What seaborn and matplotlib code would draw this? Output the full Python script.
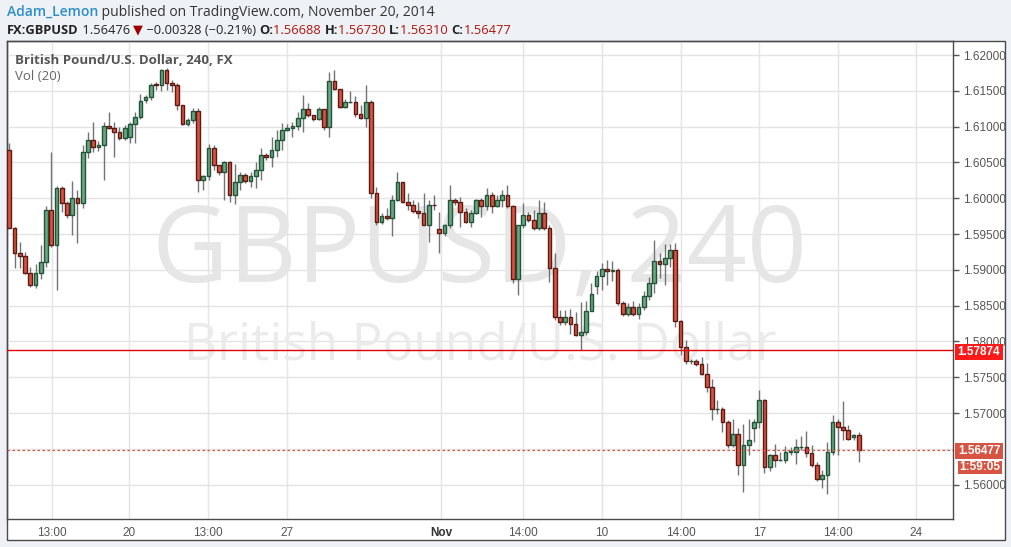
import matplotlib
matplotlib.use("Agg")
import matplotlib.pyplot as plt
import seaborn as sns
import pandas as pd
from matplotlib.patches import Rectangle

# GBPUSD 4h candles, Oct 15 - Nov 20 2014
opens = [1.6068, 1.5959, 1.5924, 1.5919, 1.5896, 1.5879, 1.5896, 1.5911, 1.5983, 1.5934,
         1.6014, 1.5994, 1.5977, 1.6001, 1.5994, 1.6065, 1.6082, 1.6071, 1.6074, 1.6101,
         1.6098, 1.6092, 1.6084, 1.6086, 1.6104, 1.6113, 1.6137, 1.6141, 1.6160, 1.6158,
         1.6179, 1.6161, 1.6158, 1.6130, 1.6103, 1.6109, 1.6122, 1.6025, 1.6031, 1.6070,
         1.6046, 1.6036, 1.6051, 1.6004, 1.6022, 1.6032, 1.6024, 1.6031, 1.6040, 1.6060,
         1.6057, 1.6068, 1.6082, 1.6095, 1.6098, 1.6101, 1.6112, 1.6124, 1.6116, 1.6110,
         1.6125, 1.6099, 1.6164, 1.6152, 1.6127, 1.6134, 1.6135, 1.6118, 1.6112, 1.6135,
         1.6007, 1.5967, 1.5975, 1.5973, 1.5997, 1.6022, 1.5995, 1.5991, 1.5982, 1.5980,
         1.5963, 1.5991, 1.5957, 1.5951, 1.5963, 1.5998, 1.5995, 1.5981, 1.5967, 1.5980,
         1.5997, 1.5989, 1.6005, 1.5989, 1.5998, 1.6004, 1.5989, 1.5887, 1.5962, 1.5976,
         1.5970, 1.5958, 1.5979, 1.5959, 1.5903, 1.5834, 1.5827, 1.5834, 1.5824, 1.5809,
         1.5813, 1.5843, 1.5878, 1.5891, 1.5901, 1.5899, 1.5900, 1.5854, 1.5838, 1.5848,
         1.5839, 1.5848, 1.5863, 1.5881, 1.5912, 1.5908, 1.5917, 1.5928, 1.5828, 1.5792,
         1.5772, 1.5773, 1.5769, 1.5755, 1.5736, 1.5705, 1.5706, 1.5688, 1.5656, 1.5671,
         1.5627, 1.5655, 1.5679, 1.5688, 1.5718, 1.5624, 1.5642, 1.5634, 1.5635, 1.5646,
         1.5646, 1.5652, 1.5653, 1.5644, 1.5627, 1.5608, 1.5613, 1.5646, 1.5687, 1.5680,
         1.5677, 1.5667, 1.56688]
highs = [1.6077, 1.5960, 1.5939, 1.5925, 1.5904, 1.5908, 1.5935, 1.5989, 1.6065, 1.6017,
         1.6017, 1.5996, 1.6024, 1.6011, 1.6074, 1.6093, 1.6106, 1.6080, 1.6107, 1.6121,
         1.6106, 1.6099, 1.6102, 1.6107, 1.6121, 1.6146, 1.6144, 1.6161, 1.6162, 1.6181,
         1.6182, 1.6165, 1.6161, 1.6130, 1.6112, 1.6126, 1.6126, 1.6032, 1.6076, 1.6074,
         1.6046, 1.6052, 1.6052, 1.6048, 1.6036, 1.6035, 1.6036, 1.6051, 1.6070, 1.6063,
         1.6086, 1.6095, 1.6105, 1.6104, 1.6107, 1.6121, 1.6144, 1.6133, 1.6116, 1.6128,
         1.6125, 1.6177, 1.6179, 1.6153, 1.6139, 1.6150, 1.6143, 1.6130, 1.6158, 1.6137,
         1.6015, 1.5980, 1.5986, 1.6005, 1.6036, 1.6023, 1.6008, 1.5998, 1.5995, 1.6007,
         1.5998, 1.6004, 1.5981, 1.5964, 1.6019, 1.6000, 1.6002, 1.5987, 1.5983, 1.5999,
         1.6000, 1.6014, 1.6009, 1.6004, 1.6011, 1.6018, 1.5990, 1.5963, 1.5993, 1.5981,
         1.5983, 1.5998, 1.5995, 1.5962, 1.5923, 1.5844, 1.5844, 1.5845, 1.5841, 1.5855,
         1.5856, 1.5881, 1.5899, 1.5909, 1.5914, 1.5913, 1.5903, 1.5857, 1.5853, 1.5857,
         1.5853, 1.5870, 1.5890, 1.5942, 1.5923, 1.5936, 1.5936, 1.5938, 1.5830, 1.5802,
         1.5776, 1.5775, 1.5778, 1.5770, 1.5747, 1.5718, 1.5709, 1.5690, 1.5692, 1.5679,
         1.5685, 1.5691, 1.5692, 1.5732, 1.5719, 1.5643, 1.5657, 1.5646, 1.5654, 1.5652,
         1.5664, 1.5668, 1.5675, 1.5655, 1.5631, 1.5620, 1.5660, 1.5697, 1.5692, 1.5717,
         1.5683, 1.5671, 1.56730]
lows = [1.5958, 1.5902, 1.5903, 1.5894, 1.5876, 1.5874, 1.5887, 1.5904, 1.5932, 1.5872,
        1.5981, 1.5972, 1.5949, 1.5938, 1.5986, 1.6056, 1.6065, 1.6066, 1.6026, 1.6097,
        1.6057, 1.6081, 1.6081, 1.6077, 1.6077, 1.6111, 1.6133, 1.6137, 1.6151, 1.6150,
        1.6151, 1.6148, 1.6123, 1.6102, 1.6101, 1.6105, 1.6009, 1.6011, 1.6026, 1.6039,
        1.6032, 1.5997, 1.5995, 1.5992, 1.6011, 1.6021, 1.6016, 1.6014, 1.6026, 1.6053,
        1.6043, 1.6057, 1.6067, 1.6094, 1.6085, 1.6095, 1.6093, 1.6113, 1.6108, 1.6109,
        1.6095, 1.6085, 1.6151, 1.6126, 1.6126, 1.6133, 1.6113, 1.6111, 1.6100, 1.6000,
        1.5962, 1.5964, 1.5969, 1.5947, 1.5996, 1.5993, 1.5983, 1.5979, 1.5972, 1.5962,
        1.5939, 1.5983, 1.5923, 1.5947, 1.5958, 1.5990, 1.5960, 1.5965, 1.5960, 1.5978,
        1.5974, 1.5983, 1.5979, 1.5988, 1.5988, 1.5986, 1.5881, 1.5865, 1.5958, 1.5967,
        1.5955, 1.5955, 1.5955, 1.5883, 1.5830, 1.5823, 1.5823, 1.5811, 1.5807, 1.5788,
        1.5809, 1.5842, 1.5866, 1.5872, 1.5879, 1.5885, 1.5851, 1.5835, 1.5835, 1.5835,
        1.5831, 1.5844, 1.5858, 1.5867, 1.5888, 1.5879, 1.5904, 1.5820, 1.5781, 1.5768,
        1.5769, 1.5765, 1.5753, 1.5730, 1.5690, 1.5698, 1.5674, 1.5651, 1.5653, 1.5613,
        1.5590, 1.5641, 1.5660, 1.5679, 1.5616, 1.5619, 1.5625, 1.5633, 1.5630, 1.5641,
        1.5629, 1.5649, 1.5639, 1.5624, 1.5605, 1.5595, 1.5587, 1.5641, 1.5642, 1.5663,
        1.5662, 1.5662, 1.56310]
closes = [1.5959, 1.5924, 1.5919, 1.5896, 1.5879, 1.5896, 1.5911, 1.5983, 1.5934, 1.6014,
          1.5994, 1.5977, 1.6001, 1.5994, 1.6065, 1.6082, 1.6071, 1.6074, 1.6101, 1.6098,
          1.6092, 1.6084, 1.6098, 1.6104, 1.6113, 1.6136, 1.6141, 1.6158, 1.6158, 1.6179,
          1.6161, 1.6158, 1.6130, 1.6103, 1.6109, 1.6122, 1.6025, 1.6031, 1.6070, 1.6046,
          1.6036, 1.6051, 1.6004, 1.6022, 1.6032, 1.6024, 1.6031, 1.6040, 1.6060, 1.6057,
          1.6068, 1.6082, 1.6095, 1.6098, 1.6101, 1.6112, 1.6124, 1.6116, 1.6110, 1.6125,
          1.6099, 1.6164, 1.6152, 1.6127, 1.6134, 1.6135, 1.6118, 1.6112, 1.6135, 1.6007,
          1.5967, 1.5975, 1.5973, 1.5997, 1.6022, 1.5995, 1.5991, 1.5982, 1.5980, 1.5963,
          1.5991, 1.5990, 1.5951, 1.5963, 1.5998, 1.5995, 1.5981, 1.5967, 1.5980, 1.5997,
          1.5989, 1.6005, 1.5989, 1.5998, 1.6004, 1.5989, 1.5887, 1.5962, 1.5976, 1.5970,
          1.5958, 1.5979, 1.5959, 1.5903, 1.5834, 1.5827, 1.5834, 1.5824, 1.5809, 1.5813,
          1.5843, 1.5866, 1.5891, 1.5901, 1.5899, 1.5900, 1.5854, 1.5838, 1.5848, 1.5839,
          1.5848, 1.5863, 1.5881, 1.5912, 1.5908, 1.5917, 1.5928, 1.5828, 1.5792, 1.5772,
          1.5773, 1.5769, 1.5755, 1.5736, 1.5705, 1.5706, 1.5688, 1.5656, 1.5671, 1.5627,
          1.5655, 1.5663, 1.5688, 1.5718, 1.5624, 1.5642, 1.5634, 1.5635, 1.5646, 1.5646,
          1.5652, 1.5653, 1.5644, 1.5627, 1.5608, 1.5613, 1.5646, 1.5687, 1.5680, 1.5677,
          1.5664, 1.5669, 1.56477]

time_labels = ["13:00", "20", "13:00", "27", "Nov", "14:00", "10", "14:00", "17", "14:00", "24"]
time_ticks = [8.1, 22.8, 37.9, 53.0, 82.3, 98.0, 113.0, 128.1, 143.0, 158.0, 172.9]
grid_prices = [1.560, 1.565, 1.570, 1.575, 1.580, 1.585, 1.590, 1.595, 1.600, 1.605, 1.610, 1.615, 1.620]
# 1.565 label is covered by the last-price tag in the original
label_prices = [1.560, 1.570, 1.575, 1.580, 1.585, 1.590, 1.595, 1.600, 1.605, 1.610, 1.615, 1.620]
hline_price = 1.57874
last_price = 1.56477

df = pd.DataFrame({"open": opens, "high": highs, "low": lows, "close": closes})
df["up"] = df["close"] >= df["open"]

sns.set_theme(style="white")
plt.rcParams["font.family"] = ["Open Sans", "DejaVu Sans"]

W, H = 1012, 547
fig = plt.figure(figsize=(W / 100, H / 100), dpi=100, facecolor="#eef1f6")


def fx(px):
    return px / W


def fy(py):
    return 1 - py / H


# white chart frame
fig.patches.append(Rectangle((fx(7), fy(540)), fx(1005) - fx(7), fy(41) - fy(540),
                             transform=fig.transFigure, facecolor="white",
                             edgecolor="#4a4a4a", lw=1, zorder=-10))

ax = fig.add_axes([fx(7), fy(519), fx(953) - fx(7), fy(41) - fy(519)])
ax.set_facecolor("none")
ax.set_xlim(-0.44, 179.96)
ax.set_ylim(1.55520, 1.62196)

# grid
for t in time_ticks:
    ax.axvline(t, color="#e4e4e4", lw=1, zorder=0)
for p in grid_prices:
    ax.axhline(p, color="#e4e4e4", lw=1, zorder=0)

# watermark
ax.text(0.5, 0.555, "GBPUSD, 240", transform=ax.transAxes, ha="center", va="center",
        fontsize=76, color="#e6e6e6", family=["Open Sans", "DejaVu Sans"], zorder=0.5)
ax.text(0.5, 0.362, "British Pound/U.S. Dollar", transform=ax.transAxes, ha="center",
        va="center", fontsize=37, color="#ebebeb", family=["Open Sans", "DejaVu Sans"], zorder=0.5)

# candles
up_fill, up_edge = "#6ba583", "#225437"
dn_fill, dn_edge = "#d75442", "#5b1a13"
x = df.index.values
ax.vlines(x, df["low"], df["high"], color="#737375", lw=1, zorder=2)
body_lo = df[["open", "close"]].min(axis=1)
body_h = (df["close"] - df["open"]).abs().clip(lower=0.00004)
ax.bar(x, body_h, bottom=body_lo, width=0.7,
       color=[up_fill if u else dn_fill for u in df["up"]],
       edgecolor=[up_edge if u else dn_edge for u in df["up"]], lw=1, zorder=3)

ax.axhline(hline_price, color="#e00000", lw=1, zorder=4)
ax.axhline(last_price, color="#d75442", lw=0.9, ls=(0, (2, 2)), zorder=4)

# axes styling
for s in ax.spines.values():
    s.set_color("#4a4a4a")
    s.set_linewidth(1)
ax.yaxis.tick_right()
ax.set_yticks(label_prices)
ax.set_yticklabels([f"{p:.5f}" for p in label_prices])
ax.set_xticks(time_ticks)
ax.set_xticklabels(time_labels)
ax.tick_params(axis="both", colors="#555555", labelsize=8.5, length=4, width=1,
               labelcolor="#555555")
ax.tick_params(axis="x", pad=2)
ax.tick_params(axis="y", pad=3)
for lab in ax.get_xticklabels() + ax.get_yticklabels():
    lab.set_family(["Liberation Sans", "DejaVu Sans"])
ax.get_xticklabels()[4].set_fontweight("bold")
ax.get_xticklabels()[4].set_color("#333333")
ax.set_xlabel("")
ax.set_ylabel("")

fig.text(fx(15), fy(60), "British Pound/U.S. Dollar, 240, FX", fontsize=9.5,
         fontweight="bold", color="#555555", va="center")
fig.text(fx(15), fy(77), "Vol (20)", fontsize=9.5, color="#666666", va="center")

# price tags on the right axis
tags = [(955, 344, 48, 16, "#ff1a1a", f"{hline_price:.5f}"),
        (955, 443, 48, 16, "#d75442", f"{last_price:.5f}"),
        (958, 461, 44, 13, "#d75442", "1:59:05")]
for x0, y0, w, h, c, txt in tags:
    fig.patches.append(Rectangle((fx(x0), fy(y0 + h)), w / W, h / H, transform=fig.transFigure,
                                 facecolor=c, edgecolor="none", zorder=5))
    fig.text(fx(x0 + w / 2), fy(y0 + h / 2), txt, ha="center", va="center", color="white",
             fontsize=8.5, fontweight="bold", family=["Liberation Sans", "DejaVu Sans"], zorder=6)

# header lines
fig.canvas.draw()
renderer = fig.canvas.get_renderer()


def chain(pieces, x0, y0, size):
    xpos = x0
    for txt, color, weight in pieces:
        t = fig.text(fx(xpos), fy(y0), txt, color=color, fontweight=weight, fontsize=size,
                     va="center", family=["Open Sans", "DejaVu Sans"])
        bb = t.get_window_extent(renderer)
        xpos += bb.width


chain([("Adam_Lemon", "#2b8ec9", "semibold"),
       (" published on TradingView.com, November 20, 2014", "#333333", "normal")], 7, 12, 10)
dark_red = "#b0150c"
chain([("FX:GBPUSD", "#222222", "bold"), (" 1.56476 ", "#222222", "normal"),
       ("▼", "#a00000", "normal"), (" \u22120.00328 (\u22120.21%) ", "#222222", "normal"),
       ("O:", "#222222", "bold"), ("1.56688 ", dark_red, "normal"),
       ("H:", "#222222", "bold"), ("1.56730 ", dark_red, "normal"),
       ("L:", "#222222", "bold"), ("1.56310 ", dark_red, "normal"),
       ("C:", "#222222", "bold"), ("1.56477", dark_red, "normal")], 7, 30, 9.3)

fig.savefig("out.png", dpi=100, facecolor=fig.get_facecolor())
